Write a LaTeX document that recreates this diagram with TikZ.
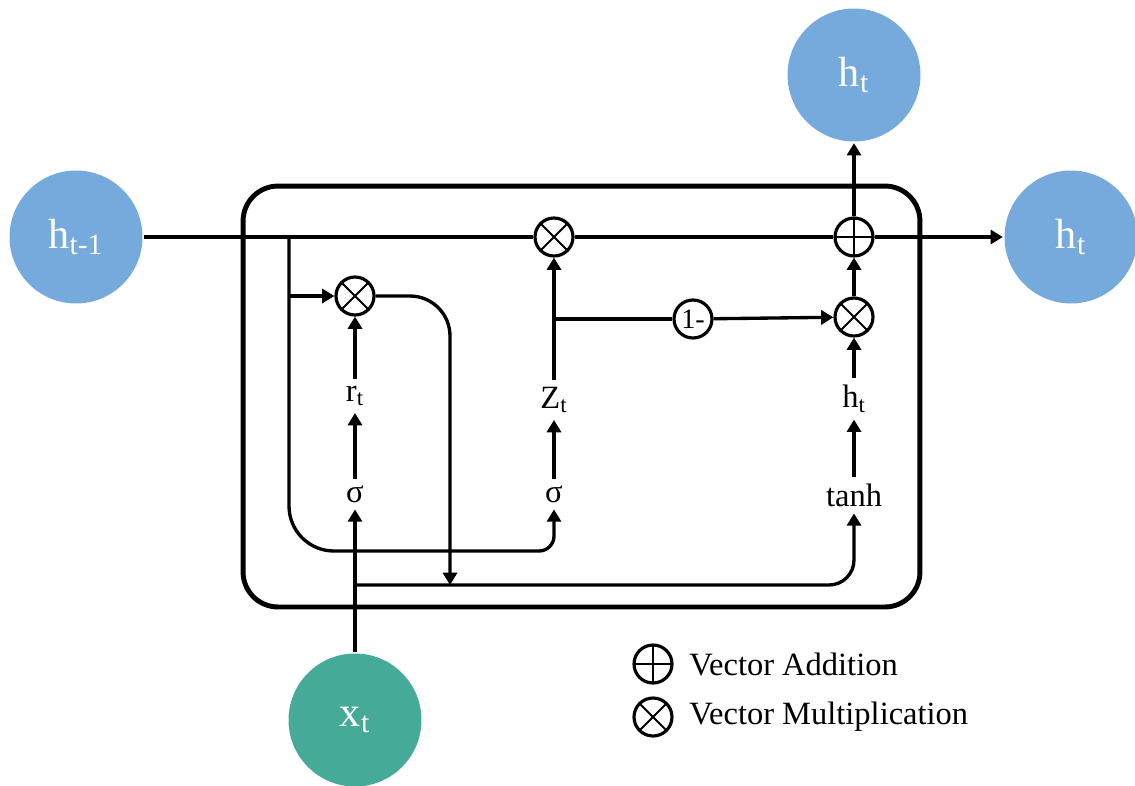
\documentclass[tikz,border=0pt]{standalone}
\usepackage{fontspec}
\setmainfont{Liberation Serif}
\usetikzlibrary{arrows.meta,positioning}
\definecolor{stateblue}{RGB}{118,170,221}
\definecolor{inputgreen}{RGB}{70,170,153}

\begin{document}
\begin{tikzpicture}[
    x=0.02cm, y=-0.02cm,
    >={Triangle[width=8pt,length=7pt]},
    line width=1.9pt,
    state/.style={circle, minimum size=2.66cm, inner sep=0pt, text=white, font=\fontsize{24}{28}\selectfont},
    gate/.style={circle, draw, fill=white, minimum size=0.76cm, inner sep=0pt, line width=1.8pt},
    mult/.style={gate, path picture={
        \draw[line width=1.1pt] (path picture bounding box.south west) -- (path picture bounding box.north east)
          (path picture bounding box.north west) -- (path picture bounding box.south east);}},
    add/.style={gate, path picture={
        \draw[line width=1.1pt] (path picture bounding box.north) -- (path picture bounding box.south)
          (path picture bounding box.west) -- (path picture bounding box.east);}},
    lbl/.style={inner sep=3pt, font=\fontsize{18.5}{22}\selectfont},
    legend/.style={inner sep=0pt, anchor=west, font=\fontsize{18.5}{22}\selectfont}
  ]
    \useasboundingbox (0,0) rectangle (1135,785);
    % cell
    \node[draw, line width=2.8pt, rounded corners=0.7cm, minimum width=13.54cm, minimum height=8.42cm] (cell) at (581.5,396.5) {};
    % states
    \node[state, fill=stateblue] (hprev) at (76,237) {h\textsubscript{t-1}};
    \node[state, fill=stateblue] (hnext) at (1071,237) {h\textsubscript{t}};
    \node[state, fill=stateblue] (htop) at (854,75) {h\textsubscript{t}};
    \node[state, fill=inputgreen] (xt) at (355,720) {x\textsubscript{t}};
    % gates
    \node[mult] (rgate) at (355,296) {};
    \node[mult] (zgate) at (554,237) {};
    \node[add] (agate) at (854,237) {};
    \node[mult] (hgate) at (854,317) {};
    \node[gate, font=\fontsize{16}{18}\selectfont] (onem) at (693,319) {1-};
    % labels
    \node[lbl] (sigr) at (355,494) {σ};
    \node[lbl] (rt) at (355,396) {r\textsubscript{t}};
    \node[lbl] (sigz) at (554,494) {σ};
    \node[lbl] (zt) at (554,400) {Z\textsubscript{t}};
    \node[lbl] (tanh) at (854,495) {tanh};
    \node[lbl] (hc) at (854,399) {h\textsubscript{t}};
    % junctions
    \coordinate (j1) at (289,237);
    \coordinate (j2) at (289,296);
    \coordinate (j3) at (355,585);
    \coordinate (j4) at (554,319);
    \coordinate (j5) at (450,585);
    % main line
    \draw (hprev) -- (zgate);
    \draw (zgate) -- (agate);
    \draw[->] (agate) -- (hnext);
    \draw[->] (agate) -- (htop);
    \draw[->] (hgate) -- (agate);
    % reset branch
    \draw[->] (j2) -- (rgate);
    \draw (j1) [rounded corners=0.9cm] -- (289,551) [rounded corners=0.3cm] -- (554,551) [->] -- (sigz.south);
    \draw[->, rounded corners=0.8cm] (rgate) -- (450,296) -- (j5);
    % input
    \draw[->] (xt) -- (sigr);
    \draw[->, rounded corners=0.5cm] (j3) -- (854,585) -- (tanh.south);
    % gate paths
    \draw[->] (sigr) -- (rt);
    \draw[->] (rt) -- (rgate);
    \draw[->] (sigz) -- (zt);
    \draw[->] (zt) -- (zgate);
    \draw[->] (tanh) -- (hc);
    \draw[->] (hc) -- (hgate);
    \draw (j4) -- (onem);
    \draw[->] (onem) -- (hgate);
    % legend
    \node[add] (ladd) at (653,664) {};
    \node[legend, right=0.28cm of ladd] (laddtxt) {Vector Addition};
    \node[mult] (lmult) at (653,717) {};
    \node[legend, right=0.28cm of lmult] (lmulttxt) {Vector Multiplication};
\end{tikzpicture}
\end{document}
